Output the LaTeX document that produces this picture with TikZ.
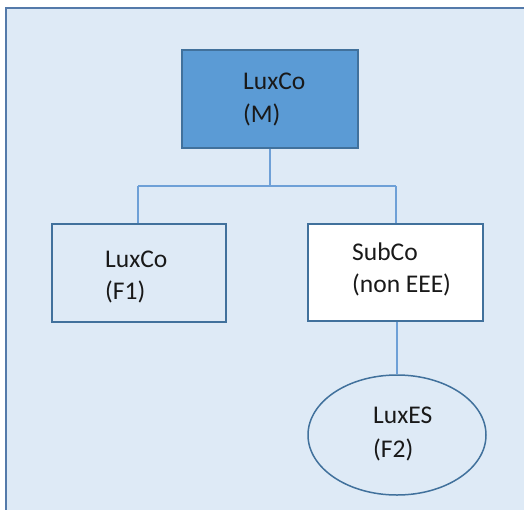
\documentclass[tikz,border=0pt]{standalone}
\usepackage{fontspec}
\setmainfont{Carlito}
\usetikzlibrary{shapes.geometric}
\definecolor{bgfill}{RGB}{222,234,246}
\definecolor{bgedge}{RGB}{84,122,170}
\definecolor{mfill}{RGB}{91,155,213}
\definecolor{boxedge}{RGB}{65,113,156}
\definecolor{conn}{RGB}{110,160,215}
\definecolor{txt}{RGB}{25,25,25}
\tikzset{
  box/.style={draw=boxedge, line width=1.5pt, rectangle, inner sep=0pt},
  lbl/.style={anchor=base west, inner sep=0pt, text=txt, font=\fontsize{25.5}{30}\selectfont},
  connector/.style={draw=conn, line width=1.8pt}
}
\begin{document}
\begin{tikzpicture}[x=1pt, y=-1pt]
\useasboundingbox (0,0) rectangle (524,509);
\fill[white] (0,0) rectangle (524,509);
\draw[fill=bgfill, draw=bgedge, line width=2pt] (6,8) rectangle (527,512);
% boxes
\node[box, fill=mfill, minimum width=176pt, minimum height=98pt] (m) at (270,99) {};
\node[box, fill=bgfill, minimum width=174pt, minimum height=98pt] (f1) at (139,273) {};
\node[box, fill=white, minimum width=175pt, minimum height=97pt] (s) at (395.5,272.5) {};
\node[ellipse, draw=boxedge, line width=1.5pt, fill=bgfill, minimum width=178pt, minimum height=120pt, inner sep=0pt] (f2) at (397,435) {};
% connectors
\coordinate (j) at (270,186);
\coordinate (jl) at (138,186);
\coordinate (jr) at (396,186);
\draw[connector] (m.south) -- (j);
\draw[connector] (jl) -- (jr);
\draw[connector] (jl) -- (jl |- f1.north);
\draw[connector] (jr) -- (jr |- s.north);
\draw[connector] (s.south -| f2.north) -- (f2.north);
% labels
\node[lbl] (m1) at (243,89) {LuxCo};
\node[lbl] (m2) at (243,122) {(M)};
\node[lbl] (f11) at (105,267) {LuxCo};
\node[lbl] (f12) at (105,299) {(F1)};
\node[lbl] (s1) at (352,260) {SubCo};
\node[lbl] (s2) at (352,292) {(non EEE)};
\node[lbl] (f21) at (373,423) {LuxES};
\node[lbl] (f22) at (373,457) {(F2)};
\end{tikzpicture}
\end{document}
